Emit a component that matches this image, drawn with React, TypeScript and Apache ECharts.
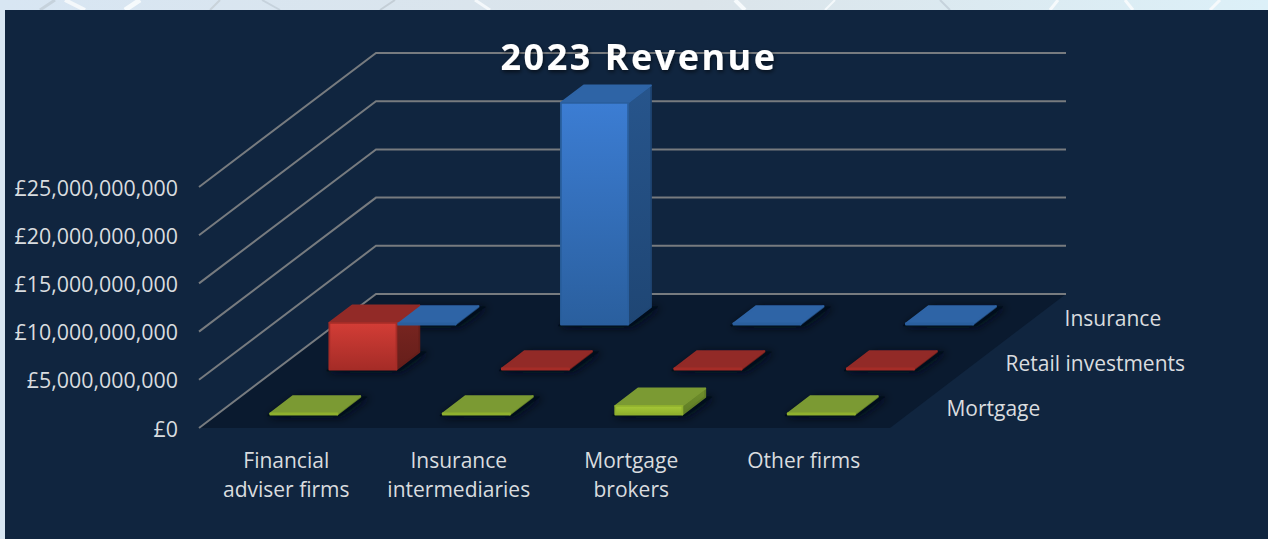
import React, { useEffect, useRef } from "react";
import * as echarts from "echarts";

const chartTitle = "2023 Revenue";
const categories = ["Financial\nadviser firms", "Insurance\nintermediaries", "Mortgage\nbrokers", "Other firms"];
const depthNames = ["Mortgage", "Retail investments", "Insurance"];
const mortgage = [120000000, 80000000, 1000000000, 80000000];
const retail = [4950000000, 30000000, 30000000, 30000000];
const insurance = [150000000, 23100000000, 170000000, 200000000];
const gridValues = [0, 5000000000, 10000000000, 15000000000, 20000000000, 25000000000];

const DX = 176;
const DY = 134;
const FRONT = 0.097;
const STEP = 0.3358;
const BAR_DEPTH = 0.13;
const BAR_W = 0.395;

const palette = [
  { front: ["#a6c837", "#8fb02e"], top: "#7b9a33", side: ["#6f8f2c", "#5f7c26"] },
  { front: ["#d33d36", "#a52c27"], top: "#922a27", side: ["#7e2722", "#651e1a"] },
  { front: ["#3c7dd3", "#2a5f9e"], top: "#2e64a6", side: ["#27558c", "#1f4674"] },
];

const fmt = (v: number) => "£" + v.toLocaleString("en-GB");

const App = () => {
  const ref = useRef<HTMLDivElement>(null);
  useEffect(() => {
    const chart = echarts.init(ref.current!, undefined, { renderer: "svg" });

    const vgrad = (a: string, b: string) =>
      new echarts.graphic.LinearGradient(0, 0, 0, 1, [
        { offset: 0, color: a },
        { offset: 1, color: b },
      ]);

    const renderBar = (_p: any, api: any) => {
      const cat = api.value(0);
      const val = api.value(1);
      const s = api.value(2);
      const c = palette[s];
      const base = api.coord([cat, 0]);
      const topPt = api.coord([cat, val]);
      const half = (api.size([1, 0])[0] * BAR_W) / 2 - 0.5;
      const w0 = FRONT + s * STEP;
      const w1 = w0 + BAR_DEPTH;
      const P = (x: number, y: number, w: number) => [x + 0.5 + w * DX, y - w * DY];
      const l = base[0] - half;
      const r = base[0] + half;
      const yb = base[1] - 0.5;
      const yt = Math.min(topPt[1] + 0.5, yb - 1);
      const poly = (pts: number[][], fill: any, stroke: string, z2: number, extra: any = {}) => ({
        type: "polygon",
        z2,
        shape: { points: pts },
        style: { fill, stroke, lineWidth: 1.8, lineJoin: "round", ...extra },
      });
      return {
        type: "group",
        children: [
          poly(
            [P(l - 2, yb + 1, w0), P(r + 3, yb + 1, w0), P(r + 6, yb, w1), P(l + 3, yb, w1)],
            "#050f1d",
            "#050f1d",
            1,
            { shadowBlur: 9, shadowColor: "rgba(2,8,18,0.9)", shadowOffsetX: 2, shadowOffsetY: 1 }
          ),
          poly([P(r, yb, w0), P(r, yb, w1), P(r, yt, w1), P(r, yt, w0)], vgrad(c.side[0], c.side[1]), c.side[1], 2),
          poly([P(l, yt, w0), P(r, yt, w0), P(r, yt, w1), P(l, yt, w1)], c.top, c.top, 3),
          poly([P(l, yb, w0), P(r, yb, w0), P(r, yt, w0), P(l, yt, w0)], vgrad(c.front[0], c.front[1]), c.front[1], 4),
        ],
      };
    };

    const barData: number[][] = [];
    [insurance, retail, mortgage].forEach((arr, i) => {
      arr.forEach((v, cat) => barData.push([cat, v, 2 - i]));
    });

    const renderFloor = (p: any) => {
      const { x, y, width, height } = p.coordSys;
      const b = y + height;
      return {
        type: "polygon",
        shape: { points: [[x, b], [x + width, b], [x + width + DX, b - DY], [x + DX, b - DY]] },
        style: { fill: "#0a1a2f" },
      };
    };

    const renderGrid = (p: any, api: any) => {
      const { x, width } = p.coordSys;
      const y = api.coord([0, api.value(1)])[1];
      return {
        type: "polyline",
        shape: { points: [[x - 1, y], [x + DX, y - DY], [x + width + DX, y - DY]] },
        style: { fill: "none", stroke: "#777b7f", lineWidth: 2 },
      };
    };

    const renderDepth = (p: any, api: any) => {
      const s = api.value(2);
      const w = 0.15 + s * STEP;
      const { x, y, width, height } = p.coordSys;
      return {
        type: "text",
        style: {
          x: x + width + 30 + w * DX,
          y: y + height - w * DY,
          text: depthNames[s],
          fill: "#d9dcdf",
          font: "21px 'Open Sans'",
          align: "left",
          verticalAlign: "middle",
        },
      };
    };

    const streak = (points: number[][], stroke: string, lineWidth: number) => ({
      type: "polyline",
      z: 0,
      silent: true,
      shape: { points },
      style: { fill: "none", stroke, lineWidth },
    });

    chart.setOption({
      animation: false,
      backgroundColor: new echarts.graphic.LinearGradient(0, 0, 1, 0, [
        { offset: 0, color: "#d8e6f3" },
        { offset: 0.55, color: "#dbe4ea" },
        { offset: 1, color: "#dcf0f8" },
      ]),
      title: {
        text: chartTitle,
        left: 634,
        top: 33,
        textAlign: "center",
        z: 20,
        textStyle: {
          fontFamily: "'Open Sans'",
          fontWeight: "bold",
          fontSize: 36,
          color: "#ffffff",
          textShadowColor: "rgba(0,0,0,0.6)",
          textShadowBlur: 4,
          textShadowOffsetX: 1,
          textShadowOffsetY: 2,
        },
      },
      graphic: [
        streak([[40, 10], [55, 0]], "#c6d2dc", 3),
        streak([[65, 0], [85, 10]], "#f4f8fb", 4),
        streak([[125, 10], [140, 0]], "#f6fafc", 5),
        streak([[210, 10], [220, 0]], "#c9d3da", 2),
        streak([[262, 0], [280, 10]], "#c6d2dc", 2),
        streak([[380, 10], [395, 0]], "#c4ced6", 2),
        streak([[475, 0], [490, 10]], "#f4f8fb", 3),
        streak([[735, 0], [745, 10]], "#f6fafc", 4),
        streak([[825, 10], [835, 0]], "#f4f8fb", 2),
        streak([[940, 0], [950, 10]], "#c6d2dc", 2),
        streak([[1050, 10], [1058, 0]], "#f6fafc", 3),
        streak([[1125, 0], [1133, 10]], "#f6fafc", 3),
        streak([[1210, 10], [1220, 0]], "#f6fafc", 3),
        {
          type: "rect",
          z: 1,
          silent: true,
          shape: { x: 5, y: 10, width: 1263, height: 529 },
          style: { fill: "#10253f" },
        },
      ],
      grid: { left: 200, right: 378, top: 187, bottom: 111 },
      xAxis: {
        type: "category",
        z: 10,
        data: categories,
        axisLine: { show: false },
        axisTick: { show: false },
        axisLabel: {
          color: "#d9dcdf",
          fontFamily: "'Open Sans'",
          fontSize: 21,
          lineHeight: 29,
          margin: 17,
          interval: 0,
          hideOverlap: false,
        },
      },
      yAxis: {
        type: "value",
        z: 10,
        min: 0,
        max: gridValues[gridValues.length - 1],
        interval: gridValues[1],
        splitLine: { show: false },
        axisLine: { show: false },
        axisTick: { show: false },
        axisLabel: {
          color: "#d9dcdf",
          fontFamily: "'Open Sans'",
          fontSize: 21.4,
          margin: 22,
          formatter: (v: number) => fmt(v),
        },
      },
      series: [
        { type: "custom", z: 2, renderItem: renderFloor, data: [[0, 0]], silent: true },
        { type: "custom", z: 3, renderItem: renderGrid, data: gridValues.map((v) => [0, v]), silent: true },
        { type: "custom", z: 4, renderItem: renderBar, data: barData, silent: true },
        { type: "custom", z: 5, renderItem: renderDepth, data: depthNames.map((_, i) => [0, 0, i]), silent: true },
      ],
    });
    ref.current!.querySelectorAll("text").forEach((t) => {
      if (t.textContent === chartTitle) (t as SVGTextElement).style.letterSpacing = "2.5px";
    });
    return () => chart.dispose();
  }, []);
  return (
    <>
      <style>{`body{margin:0}`}</style>
      <div ref={ref} style={{ position: "absolute", left: 0, top: 0, width: 1268, height: 539 }} />
    </>
  );
};

export default App;
